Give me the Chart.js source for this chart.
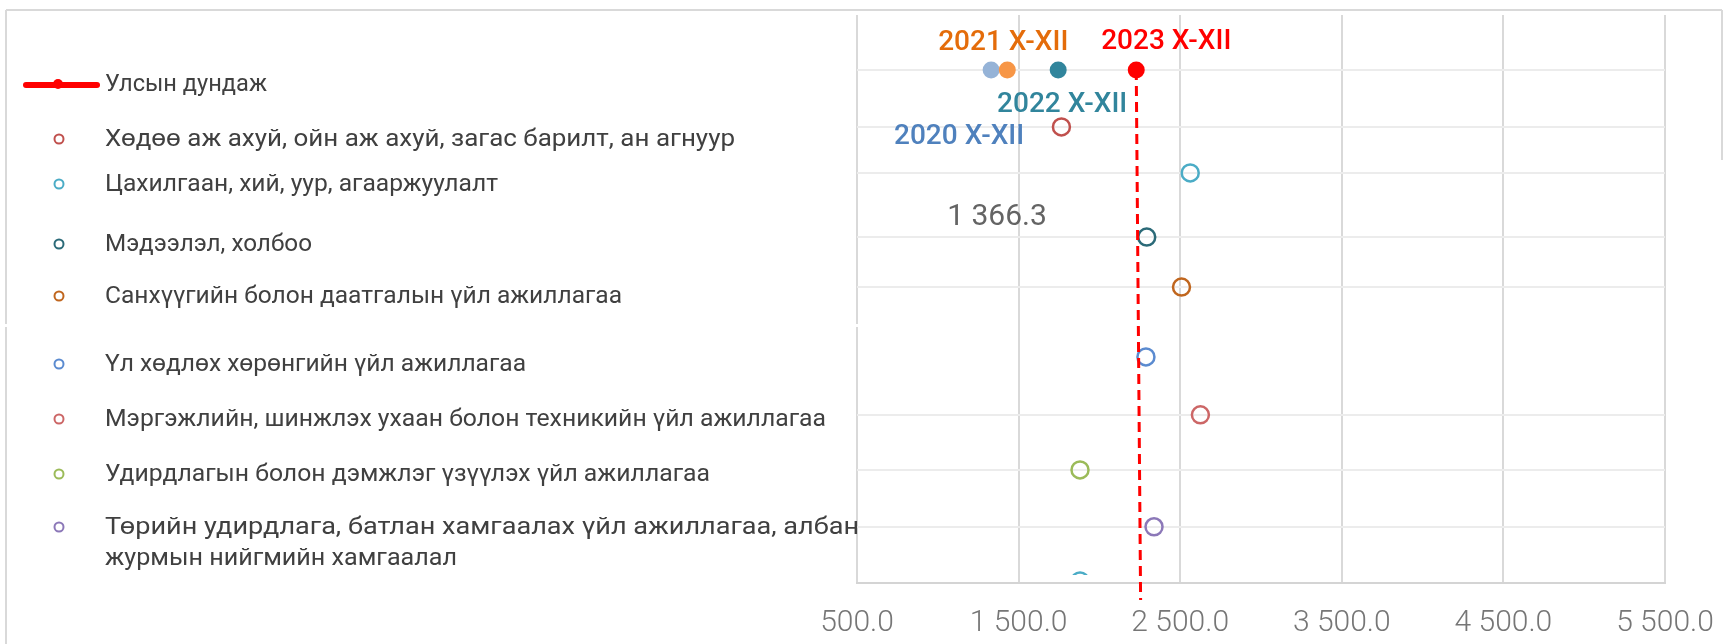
<!DOCTYPE html>
<html>
<head>
<meta charset="utf-8">
<script src="https://cdn.jsdelivr.net/npm/chart.js@4"></script>
<style>
  html, body { margin: 0; padding: 0; background: #ffffff; }
  #wrap { position: relative; width: 1726px; height: 644px; }
</style>
</head>
<body>
<div id="wrap"><canvas id="c" width="1726" height="644"></canvas></div>
<script>
// ---------------- DATA ----------------
const yearLabels = ['2020 X-XII', '2021 X-XII', '2022 X-XII', '2023 X-XII'];
const yearValues = [1330, 1430, 1745, 2228];
const yearRow = 9.03;

const sectorNames = [
  'Хөдөө аж ахуй, ойн аж ахуй, загас барилт, ан агнуур',
  'Цахилгаан, хий, уур, агааржуулалт',
  'Мэдээлэл, холбоо',
  'Санхүүгийн болон даатгалын үйл ажиллагаа',
  'Үл хөдлөх хөрөнгийн үйл ажиллагаа',
  'Мэргэжлийн, шинжлэх ухаан болон техникийн үйл ажиллагаа',
  'Удирдлагын болон дэмжлэг үзүүлэх үйл ажиллагаа',
  'Төрийн удирдлага, батлан хамгаалах үйл ажиллагаа, албан журмын нийгмийн хамгаалал'
];
const sectorValues = [1765, 2562, 2293, 2508, 2288, 2625, 1880, 2338];
const sectorRows   = [8.03, 7.22, 6.09, 5.21, 3.98, 2.96, 1.99, 0.99];

const hiddenValue = 1880;     // next category, mostly cut off at the bottom
const hiddenRow = 0.035;

const avgLabel = 'Улсын дундаж';
const avgLineValues = [2228, 2255];
const avgLineRows = [9.03, -0.3];

const noteValue = 1366.3;
const noteRow = 6.43;

const xTickValues = [500, 1500, 2500, 3500, 4500, 5500];
const gridRows = [9.03, 8.03, 7.22, 6.09, 5.21, 2.96, 1.99, 0.99];

// ---------------- STYLE ----------------
const yearDotColors   = ['#95B3D7', '#F79646', '#31859C', '#FF0000'];
const yearTextColors  = ['#4F81BD', '#E46C0A', '#31859C', '#FF0000'];
const yearLabelOffset = [[-32, 67], [-4, -27], [4, 35], [30, -28]];
const sectorColors = ['#C0504D', '#4BACC6', '#2B6A78', '#C0661E', '#5B8BD0', '#CC6666', '#9BBB59', '#8C78B8'];
const hiddenColor = '#4BACC6';

const legendTextX = 105;
const legendMarkerX = 59;
const legendY = [85, 140, 185, 245, 297, 365, 420, 475, [528, 559]];
const legendWidths = [162, 630, 393, 207, 517, 421, 721, 605, [754, 352]];
const legendSplit = ['Төрийн удирдлага, батлан хамгаалах үйл ажиллагаа, албан', 'журмын нийгмийн хамгаалал'];

function fmt(v) {
  const s = Number(v).toFixed(1);
  const parts = s.split('.');
  return parts[0].replace(/\B(?=(\d{3})+(?!\d))/g, ' ') + '.' + parts[1];
}

function fitText(ctx, text, x, y, width) {
  const w = ctx.measureText(text).width;
  const s = width / w;
  ctx.save();
  ctx.translate(x, y);
  ctx.scale(s, 1);
  ctx.fillText(text, 0, 0);
  ctx.restore();
}

const decor = {
  id: 'decor',
  beforeDraw(chart) {
    const ctx = chart.ctx;
    ctx.save();
    ctx.fillStyle = '#ffffff';
    ctx.fillRect(0, 0, chart.width, chart.height);
    ctx.strokeStyle = '#d9d9d9';
    ctx.lineWidth = 2;
    ctx.beginPath();
    ctx.moveTo(6, 10); ctx.lineTo(1722, 10);
    ctx.moveTo(6, 10); ctx.lineTo(6, 644);
    ctx.moveTo(1722, 10); ctx.lineTo(1722, 160);
    ctx.stroke();
    ctx.restore();
  },
  afterDraw(chart) {
    const ctx = chart.ctx;
    const xs = chart.scales.x, ys = chart.scales.y;
    ctx.save();
    // break strip
    ctx.fillStyle = '#ffffff';
    ctx.fillRect(0, 324, 870, 3);

    // legend: average line
    ctx.strokeStyle = '#FF0000';
    ctx.lineWidth = 6;
    ctx.lineCap = 'round';
    ctx.beginPath();
    ctx.moveTo(26, legendY[0]); ctx.lineTo(97, legendY[0]);
    ctx.stroke();
    ctx.fillStyle = '#FF0000';
    ctx.beginPath();
    ctx.arc(58, legendY[0] - 1, 5, 0, Math.PI * 2);
    ctx.fill();

    ctx.font = '400 23px Roboto';
    ctx.textBaseline = 'middle';
    ctx.textAlign = 'left';
    ctx.fillStyle = '#404040';
    fitText(ctx, avgLabel, legendTextX, legendY[0], legendWidths[0]);

    sectorNames.forEach((name, i) => {
      const yy = legendY[i + 1];
      const my = Array.isArray(yy) ? yy[0] : yy;
      ctx.strokeStyle = sectorColors[i];
      ctx.lineWidth = 2;
      ctx.beginPath();
      ctx.arc(legendMarkerX, my - 1, 4.5, 0, Math.PI * 2);
      ctx.stroke();
      ctx.fillStyle = '#404040';
      if (Array.isArray(yy)) {
        fitText(ctx, legendSplit[0], legendTextX, yy[0], legendWidths[i + 1][0]);
        fitText(ctx, legendSplit[1], legendTextX, yy[1], legendWidths[i + 1][1]);
      } else {
        fitText(ctx, name, legendTextX, yy, legendWidths[i + 1]);
      }
    });

    // year labels
    ctx.font = '500 28px Roboto';
    ctx.textAlign = 'center';
    yearLabels.forEach((lab, i) => {
      const px = xs.getPixelForValue(yearValues[i]) + yearLabelOffset[i][0];
      const py = ys.getPixelForValue(yearRow) + yearLabelOffset[i][1];
      ctx.fillStyle = yearTextColors[i];
      ctx.fillText(lab, px, py);
    });

    // stray value label
    ctx.font = '400 30px Roboto';
    ctx.fillStyle = '#646464';
    ctx.fillText(fmt(noteValue), xs.getPixelForValue(noteValue), ys.getPixelForValue(noteRow));
    ctx.restore();
  }
};

const ctx = document.getElementById('c').getContext('2d');
new Chart(ctx, {
  type: 'scatter',
  data: {
    datasets: [
      {
        label: 'years',
        data: yearValues.map(v => ({ x: v, y: yearRow })),
        backgroundColor: yearDotColors,
        borderWidth: 0,
        pointRadius: 8.5,
        order: 0
      },
      {
        label: avgLabel,
        data: avgLineValues.map((v, i) => ({ x: v, y: avgLineRows[i] })),
        showLine: true,
        borderColor: '#FF0000',
        borderWidth: 3,
        borderDash: [10, 6],
        pointRadius: 0,
        clip: false,
        order: 1
      },
      {
        label: 'sectors',
        data: sectorValues.map((v, i) => ({ x: v, y: sectorRows[i] })),
        backgroundColor: 'rgba(255,255,255,0)',
        borderColor: sectorColors,
        borderWidth: 2.5,
        pointRadius: 8.5,
        order: 2
      },
      {
        label: 'hidden',
        data: [{ x: hiddenValue, y: hiddenRow }],
        backgroundColor: 'rgba(255,255,255,0)',
        borderColor: hiddenColor,
        borderWidth: 2.5,
        pointRadius: 8.5,
        clip: { left: 0, right: 0, top: 0, bottom: -8 },
        order: 3
      }
    ]
  },
  options: {
    responsive: false,
    animation: false,
    events: [],
    layout: { padding: { left: 857, right: 61, top: 15, bottom: 0 } },
    plugins: { legend: { display: false }, tooltip: { enabled: false } },
    scales: {
      x: {
        type: 'linear',
        min: 500,
        max: 5500,
        afterBuildTicks: s => { s.ticks = xTickValues.map(v => ({ value: v })); },
        afterFit: s => { s.height = 61; s.paddingLeft = 0; s.paddingRight = 0; },
        grid: { color: '#d9d9d9', lineWidth: 2, drawTicks: false },
        border: { display: true, color: '#d4d4d4', width: 2 },
        ticks: {
          padding: 22,
          color: '#767676',
          font: { family: 'Roboto', size: 30, weight: 300 },
          callback: v => fmt(v),
          maxRotation: 0
        }
      },
      y: {
        type: 'linear',
        min: 0,
        max: 10,
        afterBuildTicks: s => { s.ticks = gridRows.map(v => ({ value: v })); },
        afterFit: s => { s.width = 0; s.paddingTop = 0; s.paddingBottom = 0; },
        grid: { color: '#ececec', lineWidth: 2, drawTicks: false },
        border: { display: false },
        ticks: { display: false }
      }
    }
  },
  plugins: [decor]
});
</script>
</body>
</html>
